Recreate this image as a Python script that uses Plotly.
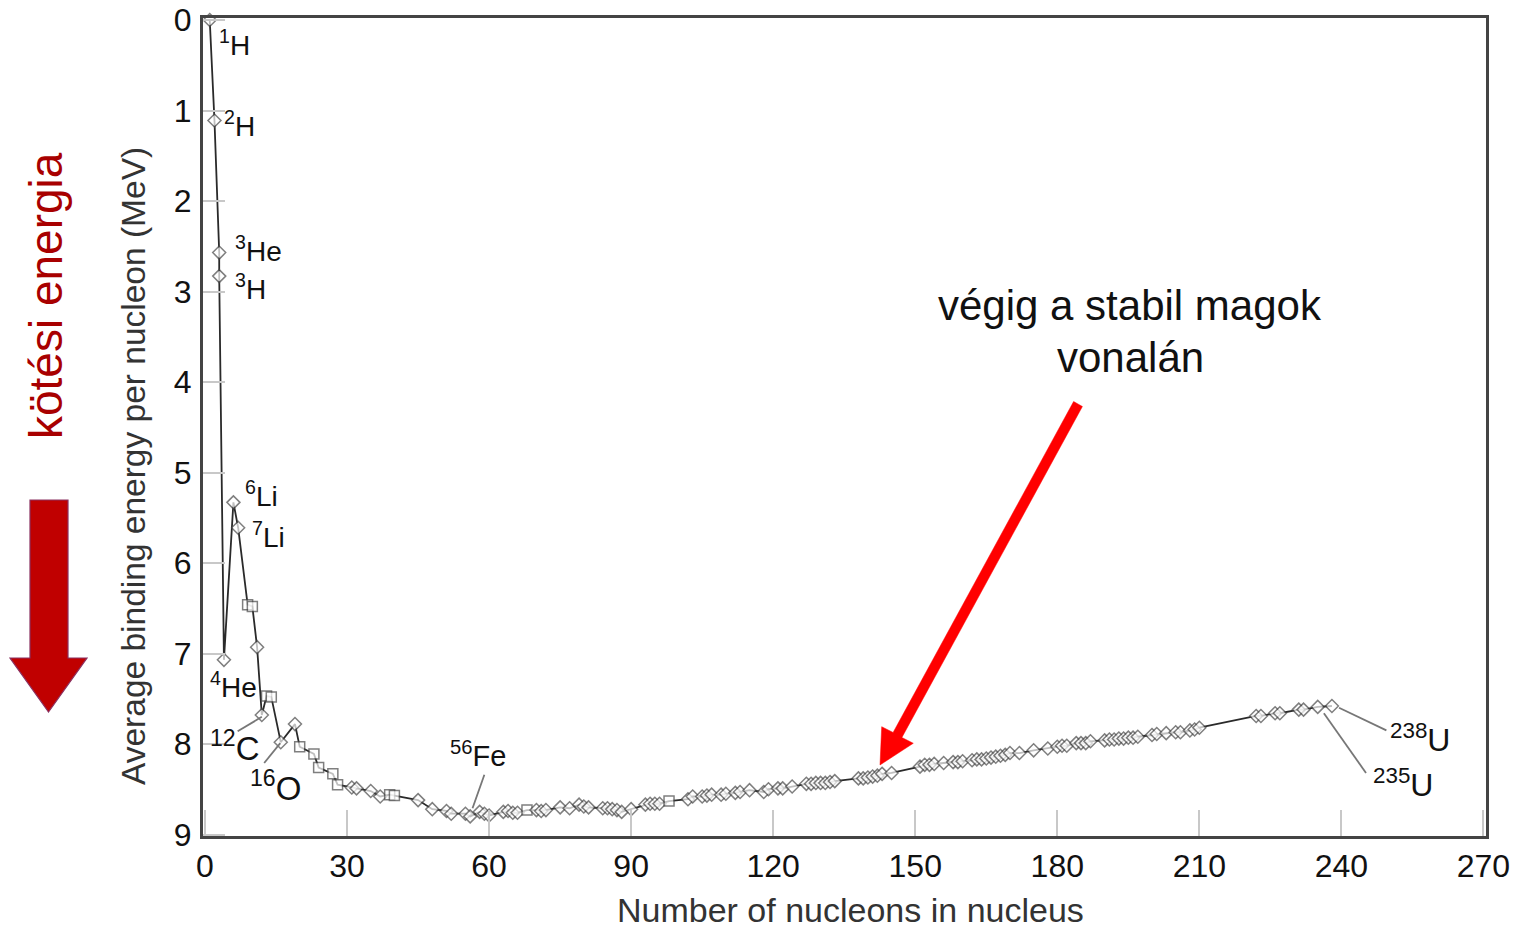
import plotly.graph_objects as go

# ---------------- data ----------------
nucleons = [1, 2, 3, 3, 4, 6, 7, 9, 10, 11, 12, 13, 14, 16, 19, 20, 23, 24, 27, 28,
            31, 32, 35, 37, 39, 40, 45, 48, 51, 52, 55, 56, 58, 59, 60, 63, 64, 65, 66, 68,
            70, 71, 72, 75, 77, 79, 80, 81, 84, 85, 86, 87, 88, 90, 93, 94, 95, 96, 98,
            102, 103, 105, 106, 107, 109, 110, 112, 113, 115, 118, 119, 121, 122, 124,
            127, 128, 129, 130, 131, 132, 133, 138, 139, 140, 141, 142, 143, 145,
            151, 152, 153, 154, 156, 158, 159, 160, 162, 163, 164, 165, 166, 167, 168, 169,
            170, 172, 175, 178, 180, 181, 182, 184, 185, 186, 187, 190, 191, 192, 193, 194,
            195, 196, 197, 200, 201, 203, 205, 206, 208, 209, 210, 222, 223, 226, 227,
            231, 232, 235, 238]

binding_energy = [0.00, 1.11, 2.57, 2.83, 7.07, 5.33, 5.61, 6.46, 6.48, 6.93, 7.68, 7.47, 7.48,
                  7.98, 7.78, 8.03, 8.11, 8.26, 8.33, 8.45,
                  8.48, 8.49, 8.52, 8.58, 8.56, 8.57, 8.62, 8.72, 8.74, 8.77, 8.77, 8.80, 8.75,
                  8.77, 8.79, 8.75, 8.74, 8.76, 8.76, 8.73,
                  8.73, 8.74, 8.73, 8.70, 8.71, 8.67, 8.69, 8.70, 8.71, 8.71, 8.72, 8.73, 8.75,
                  8.72, 8.67, 8.66, 8.66, 8.66, 8.63,
                  8.61, 8.58, 8.58, 8.57, 8.56, 8.56, 8.55, 8.54, 8.53, 8.51, 8.53, 8.50, 8.49,
                  8.49, 8.47,
                  8.44, 8.44, 8.43, 8.43, 8.43, 8.42, 8.41, 8.38, 8.38, 8.37, 8.36, 8.35, 8.33,
                  8.32,
                  8.25, 8.23, 8.23, 8.22, 8.21, 8.20, 8.20, 8.19, 8.18, 8.17, 8.17, 8.16, 8.15,
                  8.14, 8.13, 8.12,
                  8.10, 8.10, 8.07, 8.05, 8.03, 8.02, 8.02, 7.99, 7.99, 7.99, 7.97, 7.96, 7.95,
                  7.95, 7.94, 7.94,
                  7.93, 7.93, 7.92, 7.90, 7.89, 7.88, 7.87, 7.87, 7.85, 7.84, 7.82, 7.69, 7.69,
                  7.66, 7.66,
                  7.62, 7.62, 7.59, 7.58]

square_nucleons = [9, 10, 13, 14, 20, 23, 24, 27, 28, 39, 40, 68, 98]

x_ticks = [0, 30, 60, 90, 120, 150, 180, 210, 240, 270]
y_ticks = [0, 1, 2, 3, 4, 5, 6, 7, 8, 9]

# isotope labels: (html text, left px, centre px of base letter, font size)
isotope_labels = [
    ("<sup>1</sup>H", 217, 46, 28),
    ("<sup>2</sup>H", 222, 127, 28),
    ("<sup>3</sup>He", 233, 252, 28),
    ("<sup>3</sup>H", 233, 290, 28),
    ("<sup>6</sup>Li", 243, 497, 28),
    ("<sup>7</sup>Li", 250, 538, 28),
    ("<sup>4</sup>He", 208, 688, 28),
    ("<sup>12</sup>C", 208, 750, 33),
    ("<sup>16</sup>O", 248, 790, 33),
    ("<sup>56</sup>Fe", 448, 757, 29),
    ("<sup>238</sup>U", 1388, 742, 32),
    ("<sup>235</sup>U", 1371, 787, 32),
]
# leader lines (data units): (x0, y0, x1, y1)
leaders = [
    (12.0, 7.70, 6.9, 7.86),
    (15.9, 7.99, 12.5, 8.21),
    (56.5, 8.71, 59.0, 8.34),
    (239.5, 7.60, 249.5, 7.85),
    (236.3, 7.66, 245.2, 8.32),
]

# ---------------- layout geometry ----------------
W, H = 1515, 928
L, R, T, B = 203, 1486, 18, 836
FONT = "Liberation Sans, Arial, Helvetica, sans-serif"


def px(x):
    return (x - L) / (R - L)


def py(y):
    return (B - y) / (B - T)


symbols = ["square" if (a in square_nucleons) else "diamond" for a in nucleons]
sizes = [10 for s in symbols]

fig = go.Figure()
fig.add_trace(go.Scatter(
    x=nucleons, y=binding_energy, mode="lines+markers",
    line=dict(color="#2a2a2a", width=1.8),
    marker=dict(symbol=symbols, size=sizes, color="white",
                line=dict(color="#4a4a4a", width=1.5)),
    cliponaxis=False, showlegend=False, hoverinfo="skip",
))

shapes = []
for (x0, y0, x1, y1) in leaders:
    shapes.append(dict(type="line", xref="x", yref="y", x0=x0, y0=y0, x1=x1, y1=y1,
                       line=dict(color="#777777", width=1.8), layer="above"))


def path(points):
    s = "M " + " L ".join(f"{px(a):.5f},{py(b):.5f}" for a, b in points) + " Z"
    return s


# big red pointing arrow
shapes.append(dict(type="path", xref="paper", yref="paper",
                   path=path([(1082.4, 406.5), (901.9, 737.5), (913.3, 743.3), (880, 765),
                              (881.7, 726.7), (893.1, 732.5), (1073.6, 401.5)]),
                   fillcolor="#ff0000", line=dict(color="#ff0000", width=0.5), layer="above"))
# left down arrow
shapes.append(dict(type="path", xref="paper", yref="paper",
                   path=path([(30, 500), (68, 500), (68, 658), (87, 658), (48.5, 712),
                              (10, 658), (30, 658)]),
                   fillcolor="#c00000", line=dict(color="#8a3060", width=1.2), layer="above"))

annotations = []
for text, left, cy, size in isotope_labels:
    annotations.append(dict(text=text, xref="paper", yref="paper", x=px(left), y=py(cy),
                            xanchor="left", yanchor="middle", showarrow=False,
                            yshift=size * 0.12,
                            font=dict(family=FONT, size=size, color="#111111")))

annotations += [
    dict(text="Number of nucleons in nucleus", xref="paper", yref="paper",
         x=px(850), y=py(910), xanchor="center", yanchor="middle", showarrow=False,
         font=dict(family=FONT, size=34, color="#333333")),
    dict(text="Average binding energy per nucleon (MeV)", xref="paper", yref="paper",
         x=px(133), y=py(466), xanchor="center", yanchor="middle", showarrow=False,
         textangle=-90, font=dict(family=FONT, size=33.5, color="#333333")),
    dict(text="kötési energia", xref="paper", yref="paper",
         x=px(46), y=py(296), xanchor="center", yanchor="middle", showarrow=False,
         textangle=-90, font=dict(family=FONT, size=46, color="#a80000")),
    dict(text="végig a stabil magok", xref="paper", yref="paper",
         x=px(1130), y=py(305), xanchor="center", yanchor="middle", showarrow=False,
         font=dict(family=FONT, size=42, color="#111111")),
    dict(text="vonalán", xref="paper", yref="paper",
         x=px(1130), y=py(357), xanchor="center", yanchor="middle", showarrow=False,
         font=dict(family=FONT, size=42, color="#111111")),
]

x0_px = 205.0
scale_x = 4.735
y0_px = 20.0
scale_y = 90.5

fig.update_layout(
    width=W, height=H,
    margin=dict(l=L, r=W - R, t=T, b=H - B, pad=0, autoexpand=False),
    paper_bgcolor="white", plot_bgcolor="white",
    font=dict(family=FONT, color="#111111"),
    shapes=shapes, annotations=annotations,
    xaxis=dict(range=[(L - x0_px) / scale_x, (R - x0_px) / scale_x],
               tickmode="array", tickvals=x_ticks, ticktext=[str(v) for v in x_ticks],
               ticks="inside", ticklen=26, tickwidth=2, tickcolor="#c8c8c8",
               showgrid=False, zeroline=False, automargin=False,
               showline=True, mirror=True, linecolor="#444444", linewidth=3,
               tickfont=dict(family=FONT, size=32, color="#111111"),
               ticklabelstandoff=0),
    yaxis=dict(range=[(B - y0_px) / scale_y, (T - y0_px) / scale_y],
               tickmode="array", tickvals=y_ticks, ticktext=[str(v) for v in y_ticks],
               ticks="inside", ticklen=22, tickwidth=2, tickcolor="#c8c8c8",
               showgrid=False, zeroline=False, automargin=False,
               showline=True, mirror=True, linecolor="#444444", linewidth=3,
               tickfont=dict(family=FONT, size=32, color="#111111"),
               ticklabelstandoff=2),
)

fig.write_html("out.html")
